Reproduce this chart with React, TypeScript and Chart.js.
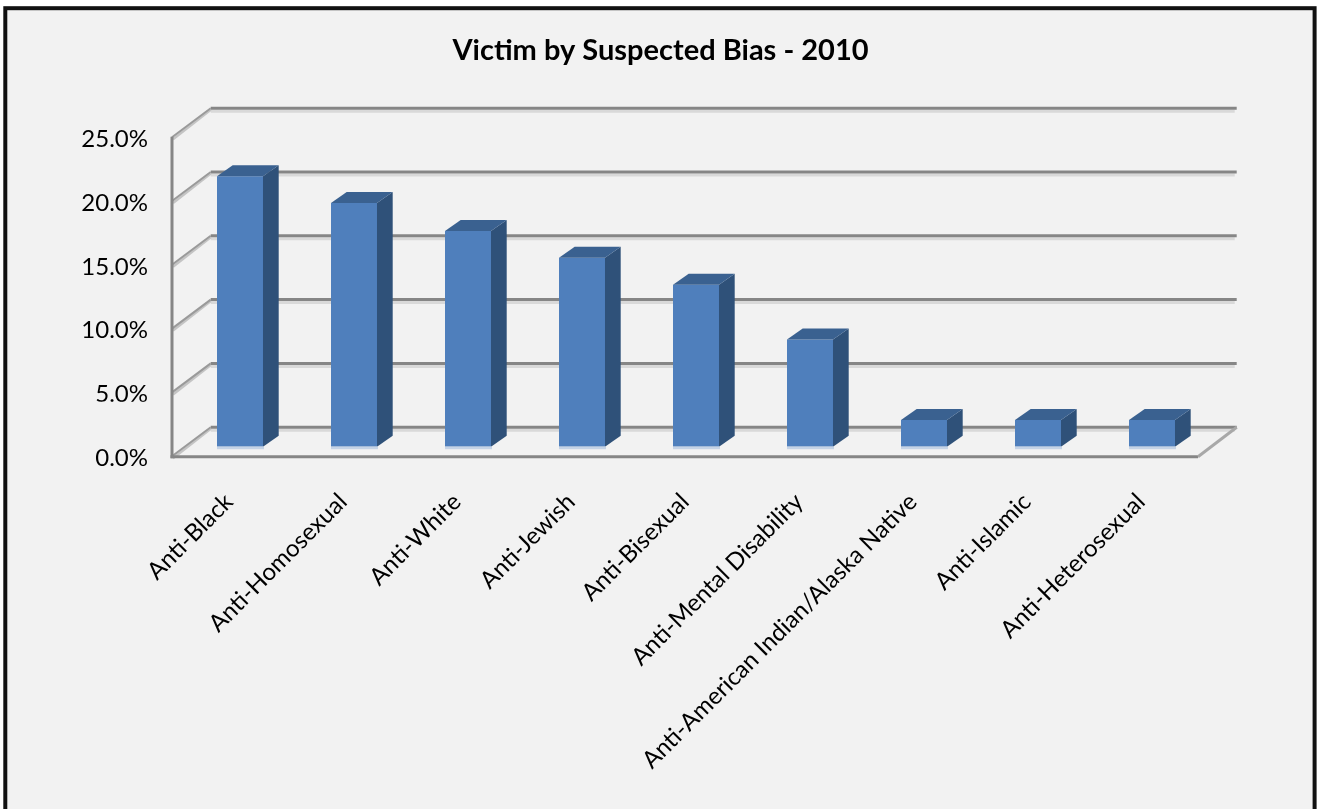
import React, { useEffect, useRef } from "react";
import { Chart, registerables } from "chart.js";

Chart.register(...registerables);

const categories = [
  "Anti-Black",
  "Anti-Homosexual",
  "Anti-White",
  "Anti-Jewish",
  "Anti-Bisexual",
  "Anti-Mental Disability",
  "Anti-American Indian/Alaska Native",
  "Anti-Islamic",
  "Anti-Heterosexual",
];
const victimShare = [21.2, 19.1, 16.9, 14.8, 12.7, 8.4, 2.1, 2.1, 2.1];
const chartTitle = "Victim by Suspected Bias - 2010";

const FONT = "Lato, Carlito, 'Noto Sans', sans-serif";
const BAR_SHIFT_X = 11;
const BAR_SHIFT_Y = -10;
const WALL_DX = 38.7;
const WALL_DY = -29.5;
const BAR_DX = 15.7;
const BAR_DY = -11;
const GRID = "#868686";
const GRID_SHADE = "#d9d9d9";
const PANEL = "#f2f2f2";

const panelPlugin = {
  id: "panel",
  beforeDraw(chart: any) {
    const { ctx, width, height } = chart;
    ctx.save();
    ctx.fillStyle = "#ffffff";
    ctx.fillRect(0, 0, width, height);
    ctx.fillStyle = PANEL;
    ctx.fillRect(5, 8, 1310, height);
    ctx.strokeStyle = "#111111";
    ctx.lineWidth = 4;
    ctx.strokeRect(5.3, 8.2, 1309.3, height + 40);
    ctx.restore();
    for (const item of chart.scales.y.getLabelItems()) {
      if (!item.options.__moved) {
        item.options.translation[1] += 1.6;
        item.options.__moved = true;
      }
    }
  },
  afterDraw(chart: any) {
    const { ctx } = chart;
    ctx.save();
    ctx.fillStyle = PANEL;
    ctx.fillRect(80, 401.8, 68, 5);
    ctx.restore();
  },
};

const wallsPlugin = {
  id: "walls",
  beforeDatasetsDraw(chart: any) {
    const { ctx, chartArea, scales } = chart;
    const { left, right, bottom, top } = chartArea;
    const y = scales.y;
    const line = (x1: number, y1: number, x2: number, y2: number, c: string, w: number) => {
      ctx.strokeStyle = c;
      ctx.lineWidth = w;
      ctx.beginPath();
      ctx.moveTo(x1, y1);
      ctx.lineTo(x2, y2);
      ctx.stroke();
    };
    ctx.save();
    ctx.lineCap = "butt";
    for (const t of y.ticks) {
      const py = y.getPixelForValue(t.value);
      const by = py + WALL_DY;
      const bx = left + WALL_DX;
      line(bx, by + 3, right + WALL_DX - 2, by + 3, GRID_SHADE, 3);
      line(bx, by, right + WALL_DX, by, GRID, 3);
      line(left + 1, py + 1.5, bx, by + 1.5, "#c4c4c4", 2.5);
      line(left, py - 0.5, bx, by, "#9a9a9a", 2);
    }
    line(left, top - 1, left, bottom + 1.5, GRID, 3);
    line(left - 1.5, bottom, right, bottom, GRID, 3);
    line(right, bottom, right + WALL_DX, bottom + WALL_DY, "#a8a8a8", 3);
    ctx.restore();
  },
  beforeDatasetDraw(chart: any) {
    chart.ctx.save();
    chart.ctx.translate(BAR_SHIFT_X, BAR_SHIFT_Y);
  },
  afterDatasetDraw(chart: any, args: any) {
    const { ctx } = chart;
    for (const bar of args.meta.data) {
      const l = bar.x - bar.width / 2;
      const r = bar.x + bar.width / 2;
      const t = bar.y;
      const b = bar.base;
      ctx.fillStyle = "#2f5179";
      ctx.beginPath();
      ctx.moveTo(r, t);
      ctx.lineTo(r + BAR_DX, t + BAR_DY);
      ctx.lineTo(r + BAR_DX, b + BAR_DY);
      ctx.lineTo(r, b);
      ctx.closePath();
      ctx.fill();
      ctx.fillStyle = "#3a6190";
      ctx.beginPath();
      ctx.moveTo(l, t);
      ctx.lineTo(l + BAR_DX, t + BAR_DY);
      ctx.lineTo(r + BAR_DX, t + BAR_DY);
      ctx.lineTo(r, t);
      ctx.closePath();
      ctx.fill();
      ctx.fillStyle = "#c5d3e6";
      ctx.fillRect(l, b, bar.width + 1, 2.5);
    }
    ctx.restore();
  },
};

export default function App() {
  const ref = useRef<HTMLCanvasElement | null>(null);

  useEffect(() => {
    document.body.style.margin = "0";
    const chart = new Chart(ref.current as HTMLCanvasElement, {
      type: "bar",
      data: {
        labels: categories,
        datasets: [
          {
            label: "Victims",
            data: victimShare,
            backgroundColor: "#4f7fbc",
            borderWidth: 0,
            categoryPercentage: 1,
            barPercentage: 0.4035,
          },
        ],
      },
      options: {
        responsive: false,
        animation: false,
        devicePixelRatio: 1,
        layout: { padding: { left: 4, right: 0, top: 0, bottom: 0 } },
        plugins: {
          legend: { display: false },
          tooltip: { enabled: false },
          title: {
            display: true,
            text: chartTitle,
            color: "#000000",
            font: { family: FONT, size: 29, weight: "bold", lineHeight: 1.2 },
            padding: { top: 33.6, bottom: 69.3 },
          },
        },
        scales: {
          x: {
            grid: { display: false },
            border: { display: false },
            afterFit(scale: any) {
              scale.height = 352.3;
              scale.paddingRight = 119;
            },
            ticks: {
              autoSkip: false,
              maxRotation: 45,
              minRotation: 45,
              padding: 23,
              color: "#000000",
              font: { family: FONT, size: 24 },
            },
          },
          y: {
            min: 0,
            max: 25,
            grid: { display: false },
            border: { display: false },
            afterFit(scale: any) {
              scale.width = 168;
            },
            ticks: {
              stepSize: 5,
              padding: 16,
              color: "#000000",
              font: { family: FONT, size: 24 },
              callback: (v: any) => Number(v).toFixed(1) + "%",
            },
          },
        },
      },
      plugins: [panelPlugin, wallsPlugin],
    } as any);
    return () => chart.destroy();
  }, []);

  return (
    <div style={{ position: "absolute", left: 0, top: 0, width: 1317, height: 809, overflow: "hidden" }}>
      <canvas ref={ref} width={1317} height={809} style={{ display: "block" }} />
    </div>
  );
}
